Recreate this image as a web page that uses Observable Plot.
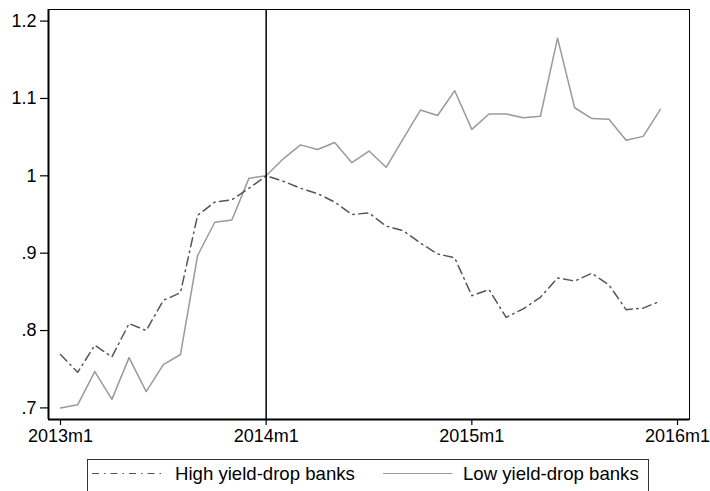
<!DOCTYPE html>
<html>
<head>
<meta charset="utf-8">
<script src="https://cdn.jsdelivr.net/npm/d3@7"></script>
<script src="https://cdn.jsdelivr.net/npm/@observablehq/plot@0.6"></script>
<style>
  html, body { margin: 0; padding: 0; background: #fff; overflow: hidden; }
  #wrap { position: relative; width: 710px; height: 491px; font-family: "Liberation Sans", Arial, sans-serif; }
  #legend { position: absolute; left: 0; top: 0; }
</style>
</head>
<body>
<div id="wrap"></div>
<script>
// Month index 0 = 2013m1 ... 35 = 2015m12
const months = d3.range(36);
const highValues = [
  0.769, 0.746, 0.781, 0.766, 0.809, 0.800, 0.839, 0.849, 0.949, 0.966, 0.969, 0.984,
  1.000, 0.993, 0.984, 0.977, 0.966, 0.950, 0.952, 0.935, 0.929, 0.913, 0.899, 0.894,
  0.845, 0.853, 0.817, 0.828, 0.843, 0.868, 0.864, 0.874, 0.859, 0.827, 0.829, 0.838
];
const lowValues = [
  0.700, 0.704, 0.747, 0.711, 0.765, 0.721, 0.756, 0.769, 0.897, 0.940, 0.943, 0.997,
  1.000, 1.022, 1.040, 1.034, 1.043, 1.017, 1.032, 1.011, 1.048, 1.085, 1.078, 1.110,
  1.060, 1.080, 1.080, 1.075, 1.077, 1.178, 1.088, 1.074, 1.073, 1.046, 1.051, 1.086
];
const xTickMonths = [0, 12, 24, 36];
const xTickLabels = ["2013m1", "2014m1", "2015m1", "2016m1"];
const yTicks = [0.7, 0.8, 0.9, 1.0, 1.1, 1.2];
const yTickLabels = [".7", ".8", ".9", "1", "1.1", "1.2"];
const eventMonth = [12];
const seriesNames = ["High yield-drop banks", "Low yield-drop banks"];

const high = months.map((m, i) => ({month: m, value: highValues[i]}));
const low = months.map((m, i) => ({month: m, value: lowValues[i]}));

const highStroke = "#555555";
const lowStroke = "#9a9a9a";
const highDash = "9,4.5,1.5,4.5";

const chart = Plot.plot({
  width: 710,
  height: 452,
  marginTop: 9,
  marginBottom: 33,
  marginLeft: 48,
  marginRight: 21,
  x: {domain: [-0.7, 36.7]},
  y: {domain: [0.685, 1.215]},
  style: {fontFamily: "'Liberation Sans', Arial, sans-serif", fontSize: "18px", color: "#000", background: "#fff"},
  marks: [
    Plot.axisY({ticks: yTicks, tickFormat: d => yTickLabels[yTicks.findIndex(t => Math.abs(t - d) < 1e-9)], tickSize: 8, tickPadding: 4, label: null, strokeWidth: 1.2}),
    Plot.axisX({ticks: xTickMonths, tickFormat: d => xTickLabels[xTickMonths.indexOf(d)], tickSize: 6, tickPadding: 4, label: null, strokeWidth: 1.2}),
    Plot.line(low, {x: "month", y: "value", stroke: lowStroke, strokeWidth: 1.5}),
    Plot.line(high, {x: "month", y: "value", stroke: highStroke, strokeWidth: 1.5, strokeDasharray: highDash}),
    Plot.ruleX(eventMonth, {stroke: "#000", strokeWidth: 1.5}),
    Plot.frame({stroke: "#000", strokeWidth: 1}),
    Plot.ruleX([-0.7], {stroke: "#000", strokeWidth: 2}),
    Plot.ruleY([0.685], {stroke: "#000", strokeWidth: 2})
  ]
});

const wrap = document.getElementById("wrap");
wrap.appendChild(chart);

// Legend below the chart
const NS = "http://www.w3.org/2000/svg";
const leg = document.createElementNS(NS, "svg");
leg.setAttribute("id", "legend");
leg.setAttribute("width", 710);
leg.setAttribute("height", 491);
leg.style.position = "absolute";
leg.style.left = "0px";
leg.style.top = "0px";
const rect = document.createElementNS(NS, "rect");
rect.setAttribute("x", 87.5);
rect.setAttribute("y", 459.5);
rect.setAttribute("width", 561);
rect.setAttribute("height", 40);
rect.setAttribute("fill", "none");
rect.setAttribute("stroke", "#333");
rect.setAttribute("stroke-width", 1);
leg.appendChild(rect);
const items = [
  {x1: 92, x2: 161, tx: 175, stroke: highStroke, dash: "7,5,1.5,5", name: seriesNames[0]},
  {x1: 383, x2: 452, tx: 463, stroke: lowStroke, dash: null, name: seriesNames[1]}
];
for (const it of items) {
  const ln = document.createElementNS(NS, "line");
  ln.setAttribute("x1", it.x1); ln.setAttribute("x2", it.x2);
  ln.setAttribute("y1", 473.5); ln.setAttribute("y2", 473.5);
  ln.setAttribute("stroke", it.stroke); ln.setAttribute("stroke-width", 1.2);
  if (it.dash) ln.setAttribute("stroke-dasharray", it.dash);
  leg.appendChild(ln);
  const tx = document.createElementNS(NS, "text");
  tx.setAttribute("x", it.tx); tx.setAttribute("y", 480);
  tx.setAttribute("font-family", "'Liberation Sans', Arial, sans-serif");
  tx.setAttribute("font-size", "18.6px");
  tx.setAttribute("fill", "#000");
  tx.textContent = it.name;
  leg.appendChild(tx);
}
wrap.appendChild(leg);
</script>
</body>
</html>
